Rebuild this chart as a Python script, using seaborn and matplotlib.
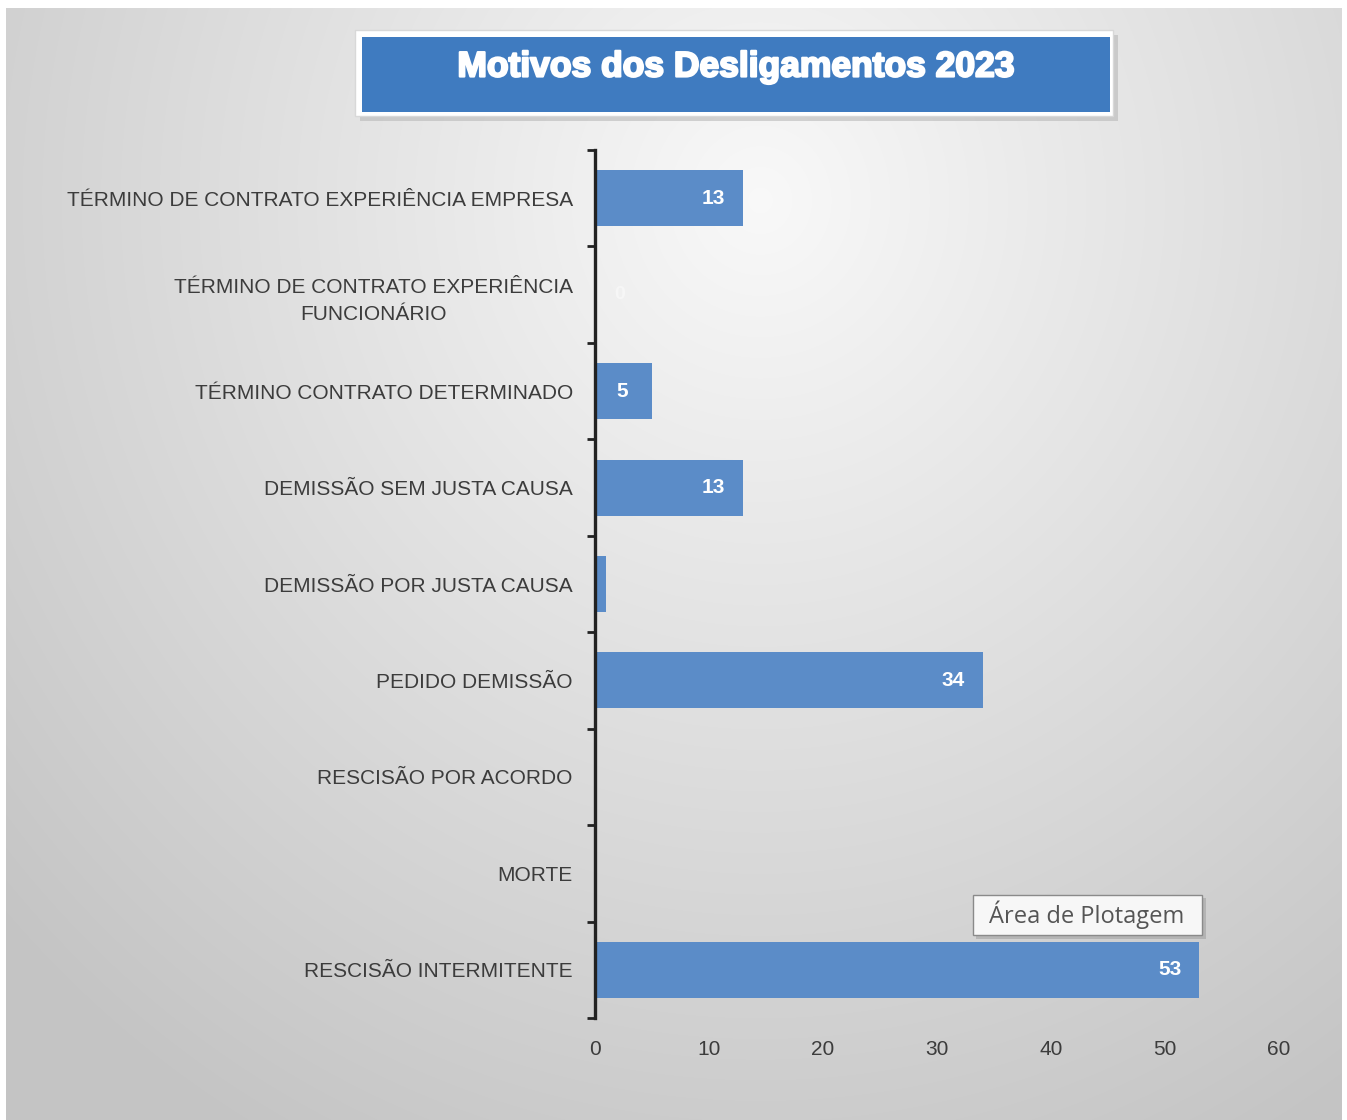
import numpy as np
import pandas as pd
import seaborn as sns
from matplotlib import pyplot as plt
from matplotlib import patheffects
from matplotlib.patches import Rectangle


motivos = [
    "TÉRMINO DE CONTRATO EXPERIÊNCIA EMPRESA",
    "TÉRMINO DE CONTRATO EXPERIÊNCIA\nFUNCIONÁRIO",
    "TÉRMINO CONTRATO DETERMINADO",
    "DEMISSÃO SEM JUSTA CAUSA",
    "DEMISSÃO POR JUSTA CAUSA",
    "PEDIDO DEMISSÃO",
    "RESCISÃO POR ACORDO",
    "MORTE",
    "RESCISÃO INTERMITENTE",
]
quantidades = [13, 0, 5, 13, 1, 34, 0, 0, 53]
x_ticks = [0, 10, 20, 30, 40, 50, 60]

BAR = "#5b8cc8"
TITLE_BLUE = "#3f7bc0"
TEXT = "#3c3c3c"
LABEL_FONT = ["Liberation Sans Narrow", "Liberation Sans", "DejaVu Sans"]

df = pd.DataFrame({"motivo": motivos, "qtd": quantidades})

sns.set_theme(style="white")
plt.rcParams["font.family"] = LABEL_FONT

fig = plt.figure(figsize=(13.47, 11.2), dpi=100)

# gradient background (radial, light near top centre)
bg = fig.add_axes([0, 0, 1, 1], zorder=-10)
h, w = 1120, 1347
yy, xx = np.mgrid[0:h, 0:w]
r = np.sqrt(((xx - 760) / 950.0) ** 2 + ((yy - 200) / 1000.0) ** 2)
shade = np.clip(0.975 - 0.19 * r, 0.77, 0.975)
img = np.dstack([shade, shade, shade])
img[:8, :] = 1.0
img[:, :6] = 1.0
img[:, -5:] = 1.0
bg.imshow(img, extent=(0, w, h, 0), aspect="auto", interpolation="bilinear")
bg.set_xlim(0, w)
bg.set_ylim(h, 0)
bg.axis("off")

ax = fig.add_axes([595 / w, 1 - 1018 / h, (1279 - 595) / w, (1018 - 150) / h])
ax.patch.set_alpha(0)
sns.barplot(df, x="qtd", y="motivo", orient="h", color=BAR, width=0.58,
            saturation=1, linewidth=0, ax=ax)
ax.set_xlim(0, 60)
ax.set_ylim(len(motivos) - 0.5, -0.5)
ax.set_xticks(x_ticks)
ax.set_xticklabels([str(t) for t in x_ticks], fontsize=15, color=TEXT,
                   family=LABEL_FONT)
ax.tick_params(axis="x", length=0, pad=16)
ax.tick_params(axis="y", which="major", length=0, pad=16)
ax.set_yticklabels(motivos, fontsize=15, color=TEXT, family=LABEL_FONT,
                   linespacing=1.55)
for lab in ax.get_yticklabels():
    lab.set_horizontalalignment("right")
    lab.set_multialignment("center")
ax.set_yticks(np.arange(-0.5, len(motivos), 1.0), minor=True)
ax.tick_params(axis="y", which="minor", left=True, length=6, width=2,
               color="#222222", direction="out")
ax.set_xlabel("")
ax.set_ylabel("")
for s in ["top", "right", "bottom"]:
    ax.spines[s].set_visible(False)
ax.spines["left"].set_linewidth(2.4)
ax.spines["left"].set_color("#222222")

for i, v in enumerate(quantidades):
    if v >= 5:
        ax.text(v - 2.6, i, str(v), ha="center", va="center", color="white",
                fontsize=15, fontweight="bold", family=LABEL_FONT)
    elif v == 0 and i == 1:
        ax.text(2.2, i, "0", ha="center", va="center", color="#f8f8f8",
                fontsize=14, fontweight="bold", alpha=0.8, family=LABEL_FONT)

# title box with shadow and white frame
bg.add_patch(Rectangle((360, 35), 758, 86, facecolor="#b8b8b8", alpha=0.6,
                       edgecolor="none"))
bg.add_patch(Rectangle((355, 30), 758, 86, facecolor="white",
                       edgecolor="#d8d8d8", lw=1))
bg.add_patch(Rectangle((362, 37), 748, 75, facecolor=TITLE_BLUE,
                       edgecolor="none"))
title = bg.text(736, 67, "Motivos dos Desligamentos 2023", ha="center",
                va="center", color="white", fontsize=25.5, fontweight="bold",
                family=["Liberation Sans", "DejaVu Sans"])
title.set_path_effects([patheffects.withStroke(linewidth=1.6,
                                               foreground="white")])

# tooltip
bg.add_patch(Rectangle((976, 898), 230, 41, facecolor="#9a9a9a", alpha=0.5,
                       edgecolor="none"))
bg.add_patch(Rectangle((973, 895), 229, 40, facecolor="#f7f7f7",
                       edgecolor="#8a8a8a", lw=1))
bg.text(1087, 915, "Área de Plotagem", ha="center", va="center",
        color="#555555", fontsize=17, family=["Open Sans", "DejaVu Sans"])

fig.savefig("out.png", dpi=100)
